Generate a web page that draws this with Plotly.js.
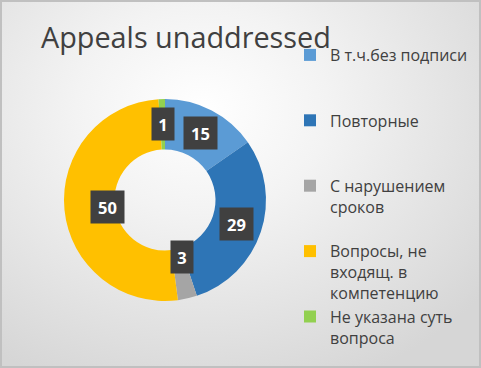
<!DOCTYPE html>
<html><head><meta charset="utf-8">
<script src="https://cdn.plot.ly/plotly-3.0.1.min.js"></script>
<style>
html,body{margin:0;padding:0;}
#wrap{position:relative;width:481px;height:368px;overflow:hidden;
 background:radial-gradient(ellipse 75% 80% at 42% 30%, #ffffff 0%, #f3f3f3 35%, #d6d6d6 100%);
 box-shadow: inset 0 0 0 2px #c0c0c0;}
#chart{position:absolute;left:0;top:0;width:481px;height:368px;}
</style></head>
<body><div id="wrap"><div id="chart"></div></div>
<script>
const categories = ["В т.ч.без подписи", "Повторные", "С нарушением сроков", "Вопросы, не входящ. в компетенцию", "Не указана суть вопроса"];
const legendLabels = ["В т.ч.без подписи", "Повторные", "С нарушением<br>сроков", "Вопросы, не<br>входящ. в<br>компетенцию", "Не указана суть<br>вопроса"];
const values = [15, 29, 3, 50, 1];
const colors = ["#5B9BD5", "#2E75B6", "#A5A5A5", "#FFC000", "#92D050"];
const titleText = "Appeals unaddressed";

const W = 481, H = 368;
const cxPx = 165, cyPx = 200, rPx = 101, hole = 0.5;
const dom = {x: [(cxPx - rPx) / W, (cxPx + rPx) / W], y: [(H - cyPx - rPx) / H, (H - cyPx + rPx) / H]};

// pad each legend label (except the last) to 3 lines so entries are evenly spaced
const padded = legendLabels.map((t, idx) => {
  if (idx === legendLabels.length - 1) return t;
  const n = t.split("<br>").length;
  let s = t;
  for (let i = n; i < 3; i++) s += "<br>\u00a0";
  return s;
});

const trace = {
  type: "pie",
  labels: padded,
  values: values,
  hole: hole,
  sort: false,
  direction: "clockwise",
  rotation: 0,
  marker: {colors: colors, line: {width: 0}},
  textinfo: "none",
  hoverinfo: "label+value",
  domain: dom,
  showlegend: true
};

// data labels in dark boxes at mid-ring of each slice
const total = values.reduce((a, b) => a + b, 0);
const annotations = [];
let cum = 0;
const rMid = rPx * (1 + hole) / 2;
values.forEach((v, i) => {
  const mid = (cum + v / 2) / total * 2 * Math.PI;
  cum += v;
  const xp = (cxPx + rMid * Math.sin(mid)) / W;
  const yp = (H - cyPx + rMid * Math.cos(mid)) / H;
  const txt = String(v);
  const w = txt.length > 1 ? 23 : 12;
  annotations.push({x: xp, y: yp, xref: "paper", yref: "paper", text: "<b>" + txt + "</b>", showarrow: false,
    width: w, height: 22, borderpad: 5, bgcolor: "#404040",
    font: {family: "Open Sans, sans-serif", size: 16.5, color: "#ffffff"}});
});

const layout = {
  width: W, height: H,
  margin: {l: 0, r: 0, t: 0, b: 0},
  paper_bgcolor: "rgba(0,0,0,0)",
  plot_bgcolor: "rgba(0,0,0,0)",
  title: {text: titleText, x: 41 / W, xanchor: "left", y: 1 - 38 / H, yanchor: "middle",
    font: {family: "Open Sans, sans-serif", size: 28.8, color: "#404040"}},
  legend: {x: 290 / W, xanchor: "left", y: 1 - 38 / H, yanchor: "top", valign: "top",
    font: {family: "Open Sans, sans-serif", size: 16, color: "#404040"},
    bgcolor: "rgba(0,0,0,0)", traceorder: "normal"},
  annotations: annotations,
  showlegend: true
};

Plotly.newPlot("chart", [trace], layout, {displayModeBar: false, staticPlot: true});
</script></body></html>
